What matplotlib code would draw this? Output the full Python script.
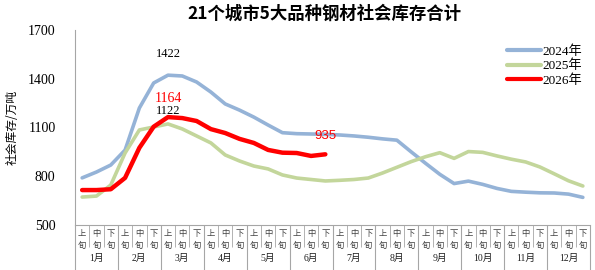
import matplotlib
matplotlib.use("Agg")
import matplotlib.pyplot as plt
import numpy as np

# 数据: 36 个旬 (每月 上/中/下旬)
months = ["%d月" % m for m in range(1, 13)]
xun = ["上", "中", "下"]
y2024 = [790, 826, 869, 961, 1220, 1374, 1422, 1417, 1380, 1318, 1245, 1207,
         1164, 1115, 1068, 1062, 1060, 1058, 1054, 1048, 1040, 1030, 1022, 950,
         880, 812, 755, 770, 750, 725, 707, 702, 698, 697, 690, 670]
y2025 = [672, 678, 746, 943, 1085, 1103, 1122, 1091, 1048, 1005, 931, 894,
         863, 845, 808, 789, 780, 771, 775, 780, 789, 820, 855, 890,
         920, 945, 910, 952, 947, 925, 905, 888, 857, 815, 772, 740]
y2026 = [715, 715, 720, 790, 975, 1105, 1164, 1158, 1140, 1090, 1066, 1030,
         1005, 962, 945, 943, 925, 935]
yticks = [500, 800, 1100, 1400, 1700]

serif = ["Liberation Serif", "Noto Sans CJK SC"]
cjk = ["Noto Sans CJK SC", "DejaVu Sans"]

fig = plt.figure(figsize=(5.95, 2.7), dpi=100)
ax = fig.add_axes([75 / 595, 1 - 225 / 270, 515 / 595, 195 / 270])

x = np.arange(len(y2024))
ax.plot(x, y2024, color="#95B3D7", lw=2.6, label="2024年", solid_capstyle="round")
ax.plot(np.arange(len(y2025)), y2025, color="#C3D69B", lw=2.6, label="2025年",
        solid_capstyle="round")
ax.plot(np.arange(len(y2026)), y2026, color="#FF0000", lw=3.2, label="2026年",
        solid_capstyle="round")

ax.set_xlim(-0.5, 35.5)
ax.set_ylim(500, 1700)
ax.set_yticks(yticks)
ax.set_yticklabels([str(v) for v in yticks], family=serif, fontsize=10)
ax.tick_params(axis="y", length=0, pad=14)

for s in ["top", "right"]:
    ax.spines[s].set_visible(False)
ax.spines["left"].set_color("#A6A6A6")
ax.spines["bottom"].set_color("#A6A6A6")

# x 轴: 分隔线用刻度画
ax.set_xticks(np.arange(-0.5, 36, 3))
ax.set_xticks(np.arange(-0.5, 36, 1), minor=True)
ax.tick_params(axis="x", which="major", length=33, color="#A6A6A6", labelbottom=False)
ax.tick_params(axis="x", which="minor", length=16, color="#A6A6A6", labelbottom=False)

tr = ax.get_xaxis_transform()
for i in range(36):
    ax.text(i, -0.045, xun[i % 3], transform=tr, ha="center", va="center",
            fontsize=6, family=cjk, color="#404040")
    ax.text(i, -0.105, "旬", transform=tr, ha="center", va="center",
            fontsize=6, family=cjk, color="#404040")
for m in range(12):
    ax.text(m * 3 + 1, -0.17, months[m], transform=tr, ha="center", va="center",
            fontsize=7, family=serif, color="#202020")

# 数据标签
ax.annotate("1422", (6, y2024[6]), xytext=(0, 11), textcoords="offset points",
            ha="center", va="bottom", fontsize=9, family=serif)
ax.annotate("1164", (6, y2026[6]), xytext=(0, 9), textcoords="offset points",
            ha="center", va="bottom", fontsize=10, family=serif, color="#FF0000")
ax.annotate("1122", (6, y2025[6]), xytext=(0, 5), textcoords="offset points",
            ha="center", va="bottom", fontsize=9, family=serif)
ax.annotate("935", (17, y2026[17]), xytext=(0, 9), textcoords="offset points",
            ha="center", va="bottom", fontsize=9.5, family="Liberation Sans",
            color="#FF0000")

ax.set_ylabel("社会库存/万吨", family=cjk, fontsize=8.5)
ax.yaxis.set_label_coords(-0.11, 0.5)

leg = ax.legend(loc="upper right", bbox_to_anchor=(0.995, 0.95), frameon=False,
                prop={"family": serif, "size": 9.5}, handlelength=2.6,
                handletextpad=0.1, labelspacing=0.15, borderaxespad=0)
for h in leg.get_lines():
    h.set_linewidth(3)

fig.text(0.545, 1 - 14 / 270, "21个城市5大品种钢材社会库存合计", ha="center", va="center",
         fontsize=12.5, fontweight="bold", family=cjk)

fig.savefig("out.png", dpi=100)
